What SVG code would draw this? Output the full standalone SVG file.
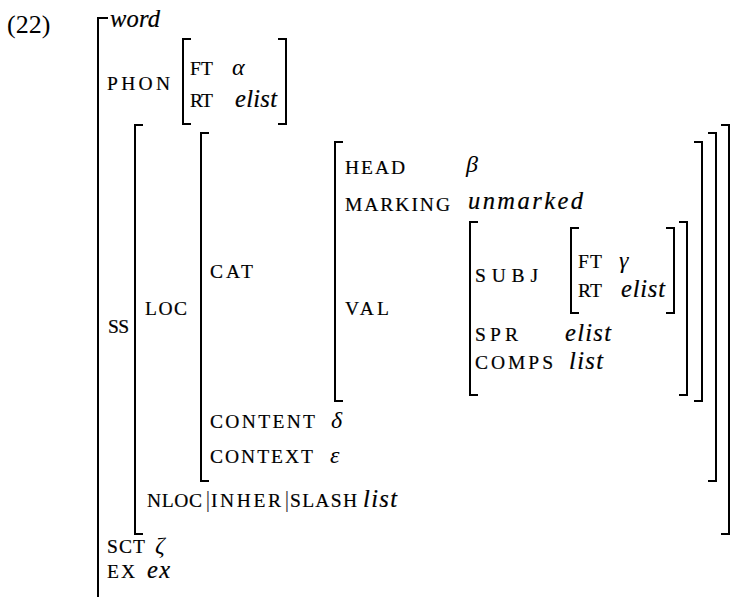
<svg xmlns="http://www.w3.org/2000/svg" width="737" height="597" viewBox="0 0 737 597">
<style>
  .br{fill:none;stroke:#000;stroke-width:2;stroke-linecap:butt;stroke-linejoin:miter}
  .f{font-family:"Liberation Serif","DejaVu Serif",serif;font-size:19.5px;fill:#000;stroke:#000;stroke-width:0.2}
  .v{font-family:"Liberation Serif","DejaVu Serif",serif;font-size:24.5px;font-style:italic;fill:#000;stroke:#000;stroke-width:0.2}
  .g{font-family:"Liberation Serif","DejaVu Serif",serif;font-size:24px;font-style:italic;fill:#000}
  .n{font-family:"Liberation Serif","DejaVu Serif",serif;font-size:26px;fill:#000}
  .bar{font-family:"Liberation Serif","DejaVu Serif",serif;font-size:24px;fill:#444}
</style>
<rect width="737" height="597" fill="#fff"/>
<text class="n" x="7" y="33">(22)</text>

<g id="word-avm">
  <path class="br" d="M108,18 H98 V600"/>
  <text class="v" x="110" y="27" textLength="50">word</text>
  <text class="f" x="107" y="90" textLength="63">PHON</text>
  <text class="f" x="108" y="333" textLength="21">SS</text>
  <text class="f" x="107" y="553" textLength="38">SCT</text>
  <text class="g" x="155" y="553">ζ</text>
  <text class="f" x="107" y="578" textLength="28">EX</text>
  <text class="v" x="147" y="578" textLength="23">ex</text>
</g>

<g id="phon-avm">
  <path class="br" d="M191,39 H183 V124 H191"/>
  <path class="br" d="M278,39 H286 V124 H278"/>
  <text class="f" x="190" y="75" textLength="23">FT</text>
  <text class="g" x="232" y="75">α</text>
  <text class="f" x="190" y="107" textLength="23">RT</text>
  <text class="v" x="235" y="107" textLength="42">elist</text>
</g>

<g id="ss-avm">
  <path class="br" d="M143,125 H135 V534 H143"/>
  <path class="br" d="M721,125 H729 V534 H721"/>
  <text class="f" x="145" y="315" textLength="42">LOC</text>
  <text class="f" x="147" y="507" textLength="55">NLOC</text>
  <text class="bar" x="205.5" y="507">|</text>
  <text class="f" x="211" y="507" textLength="70">INHER</text>
  <text class="bar" x="284.5" y="507">|</text>
  <text class="f" x="290" y="507" textLength="67">SLASH</text>
  <text class="v" x="363" y="507" textLength="34">list</text>
</g>

<g id="loc-avm">
  <path class="br" d="M209,133 H201 V481 H209"/>
  <path class="br" d="M708,133 H716 V481 H708"/>
  <text class="f" x="210" y="278" textLength="43">CAT</text>
  <text class="f" x="210" y="428" textLength="105">CONTENT</text>
  <text class="g" x="331" y="428">δ</text>
  <text class="f" x="210" y="463" textLength="103">CONTEXT</text>
  <text class="g" x="330" y="463">ε</text>
</g>

<g id="cat-avm">
  <path class="br" d="M343,142 H335 V401 H343"/>
  <path class="br" d="M694,142 H702 V401 H694"/>
  <text class="f" x="345" y="174" textLength="60">HEAD</text>
  <text class="g" x="466" y="172">β</text>
  <text class="f" x="345" y="211" textLength="105">MARKING</text>
  <text class="v" x="468" y="209" textLength="115">unmarked</text>
  <text class="f" x="345" y="315" textLength="44">VAL</text>
</g>

<g id="val-avm">
  <path class="br" d="M478,222 H470 V395 H478"/>
  <path class="br" d="M679,222 H687 V395 H679"/>
  <text class="f" x="475" y="282" textLength="63">SUBJ</text>
  <text class="f" x="475" y="341" textLength="43">SPR</text>
  <text class="v" x="565" y="341" textLength="46">elist</text>
  <text class="f" x="475" y="368.5" textLength="78">COMPS</text>
  <text class="v" x="569" y="368.5" textLength="34">list</text>
</g>

<g id="subj-avm">
  <path class="br" d="M579,228 H571 V313 H579"/>
  <path class="br" d="M666,228 H674 V313 H666"/>
  <text class="f" x="578" y="268" textLength="24">FT</text>
  <text class="g" x="619" y="268">γ</text>
  <text class="f" x="578" y="297" textLength="24">RT</text>
  <text class="v" x="621" y="297" textLength="44">elist</text>
</g>

<g id="connectors"></g>
</svg>
